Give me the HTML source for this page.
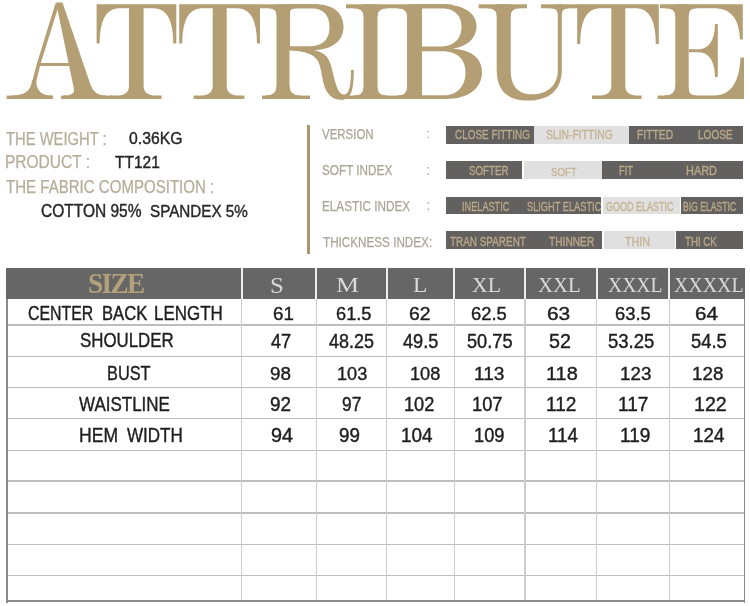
<!DOCTYPE html>
<html><head><meta charset="utf-8"><style>
html,body{margin:0;padding:0;background:#fff}
body{width:750px;height:606px;position:relative;overflow:hidden;font-family:"Liberation Sans",sans-serif}
#w{position:absolute;left:0;top:0;width:750px;height:606px;filter:blur(0.35px)}
.r{position:absolute}
.t{position:absolute;white-space:pre;line-height:1;transform-origin:0 0}
</style></head><body><div id="w">
<svg style="position:absolute;left:0;top:0" width="750" height="110" viewBox="0 0 750 110" fill="#b49e73"><path d="M56,2.6 L62.5,2.6 L94.5,96.5 L75.5,96.5 Z"/><path d="M55.5,3.2 L58.8,5.5 L40.5,64 L36.6,80 L34,96.5 L30,96.5 L32.6,80 L36.8,64 Z"/><path d="M39,63 L71,63 L72,66 L38,66 Z"/><rect x="6.6" y="95.6" width="46.4" height="3.4000000000000057"/><rect x="61" y="95.6" width="51" height="3.4000000000000057"/><path d="M32,80 Q31,95.6 12,95.6 L12,96.6 L52,96.6 L52,95.6 Q37,95.6 36.2,82 Z"/><path d="M75,86 Q76,95.6 64,95.6 L64,96.6 L80,96.6 Z"/><path d="M91,86 Q94.5,95.6 106,95.6 L106,96.6 L88,96.6 Z"/><path d="M96.6,4.3 L176.3,4.3 L176.3,43.5 L173.3,43.5 Q173.3,9.3 154.3,8.3 L143.6,8.3 L143.6,86 Q143.6,95.6 156.6,95.6 L161.5,95.6 L161.5,99.0 L110,99.0 L110,95.6 L116.0,95.6 Q129.0,95.6 129.0,86 L129.0,8.3 L118.6,8.3 Q99.6,9.3 99.6,43.5 L96.6,43.5 Z"/><path d="M179.2,4.3 L260.0,4.3 L260.0,43.5 L257.0,43.5 Q257.0,9.3 238.0,8.3 L226.7,8.3 L226.7,86 Q226.7,95.6 239.7,95.6 L244.4,95.6 L244.4,99.0 L193.6,99.0 L193.6,95.6 L199.7,95.6 Q212.7,95.6 212.7,86 L212.7,8.3 L201.2,8.3 Q182.2,9.3 182.2,43.5 L179.2,43.5 Z"/><rect x="259.5" y="4.3" width="58.5" height="4.000000000000001"/><rect x="276.5" y="4.3" width="13.0" height="94.7"/><rect x="262" y="95.6" width="48" height="3.4000000000000057"/><path d="M277.5,15.3 L276.5,15.3 Q276.5,8.3 268.5,8.3 L268.5,7.300000000000001 L277.5,7.300000000000001 Z"/><path d="M288.5,14.3 L289.5,14.3 Q289.5,8.3 295.5,8.3 L295.5,7.300000000000001 L288.5,7.300000000000001 Z"/><path d="M277.5,86.6 L276.5,86.6 Q276.5,95.6 265.5,95.6 L265.5,96.6 L277.5,96.6 Z"/><path d="M288.5,86.6 L289.5,86.6 Q289.5,95.6 300.5,95.6 L300.5,96.6 L288.5,96.6 Z"/><path fill-rule="evenodd" d="M288,4.3 L315,4.3 C335,4.3 343.5,14 343.5,27 C343.5,41 332,50.2 312,50.2 L288,50.2 Z M290,8.3 L311,8.3 C324,8.3 329.5,16 329.5,27 C329.5,38 324,46.2 310,46.2 L290,46.2 Z"/><path d="M290,48.6 C310,48.4 322,50.5 327,57 C331.5,63 333,75 336,84.5 C338,91 340.5,94.5 343.8,94.5 C348,94.5 351,90 351,70 L353.8,70 C353.8,93 350,99.8 341,99.8 C333,99.8 328,95 325,88 C322,80 321.5,69 318.5,62 C315,54.5 306,51 290,50.4 Z"/><rect x="346" y="4.3" width="106" height="4.000000000000001"/><rect x="363.5" y="4.3" width="14.0" height="94.7"/><rect x="346" y="95.6" width="102" height="3.4000000000000057"/><path d="M364.5,16.3 L363.5,16.3 Q363.5,8.3 353.5,8.3 L353.5,7.300000000000001 L364.5,7.300000000000001 Z"/><path d="M376.5,16.3 L377.5,16.3 Q377.5,8.3 387.5,8.3 L387.5,7.300000000000001 L376.5,7.300000000000001 Z"/><path d="M364.5,87.6 L363.5,87.6 Q363.5,95.6 353.5,95.6 L353.5,96.6 L364.5,96.6 Z"/><path d="M376.5,87.6 L377.5,87.6 Q377.5,95.6 387.5,95.6 L387.5,96.6 L376.5,96.6 Z"/><rect x="407" y="4.3" width="15" height="94.7"/><path d="M408,16.3 L407,16.3 Q407,8.3 397,8.3 L397,7.300000000000001 L408,7.300000000000001 Z"/><path d="M408,87.6 L407,87.6 Q407,95.6 397,95.6 L397,96.6 L408,96.6 Z"/><path fill-rule="evenodd" d="M420.5,4.3 L441,4.3 C465,4.3 476.5,14 476.5,26 C476.5,39 466,48.5 446,49.5 L420.5,49.5 Z M422,8.3 L440,8.3 C455,8.3 461.5,16 461.5,26.5 C461.5,38 455,46.5 440,46.5 L422,46.5 Z"/><path fill-rule="evenodd" d="M420.5,48.5 L448,48.5 C471,48.5 482,58 482,72 C482,88 469,99 445,99 L420.5,99 Z M422,51.2 L442,51.2 C458,51.2 465.5,60 465.5,72 C465.5,86 458,95.6 442,95.6 L422,95.6 Z"/><rect x="478.7" y="4.3" width="48.30000000000001" height="4.000000000000001"/><path d="M497.7,16.3 L496.7,16.3 Q496.7,8.3 487.7,8.3 L487.7,7.300000000000001 L497.7,7.300000000000001 Z"/><path d="M509.7,16.3 L510.7,16.3 Q510.7,8.3 519.7,8.3 L519.7,7.300000000000001 L509.7,7.300000000000001 Z"/><path d="M496.7,4.3 L510.7,4.3 L510.7,70 C510.7,86 518,94.3 532,94.3 C547,94.3 557.8,86 557.8,70 L557.8,4.3 L561.8,4.3 L561.8,70 C561.8,91 548,100.6 528,100.6 C508,100.6 496.7,91 496.7,70 Z"/><rect x="541" y="4.3" width="38" height="4.000000000000001"/><path d="M558.8,14.3 L557.8,14.3 Q557.8,8.3 550.8,8.3 L550.8,7.300000000000001 L558.8,7.300000000000001 Z"/><path d="M560.8,14.3 L561.8,14.3 Q561.8,8.3 568.8,8.3 L568.8,7.300000000000001 L560.8,7.300000000000001 Z"/><path d="M577.2,4.3 L658.8,4.3 L658.8,44 L655.8,44 Q655.8,9.3 636.8,8.3 L625.3,8.3 L625.3,86 Q625.3,95.6 638.3,95.6 L641.5,95.6 L641.5,99.0 L592,99.0 L592,95.6 L598.3,95.6 Q611.3,95.6 611.3,86 L611.3,8.3 L599.2,8.3 Q580.2,9.3 580.2,44 L577.2,44 Z"/><rect x="675.3" y="4.3" width="13.400000000000091" height="94.7"/><path d="M660,4.3 L742.8,4.3 L742.8,39.6 L740,39.6 Q739,9.3 716,8.3 L660,8.3 Z"/><path d="M657.6,95.6 L715,95.6 Q739,94.6 740.5,57.6 L744,57.6 L744,99.0 L657.6,99.0 Z"/><path d="M717.8,24 L717.8,77 L715,77 Q714.5,53 699,52.2 L689,52.2 L689,49.2 L699,49.2 Q714.5,48.4 715,24 Z"/><path d="M676.3,16.3 L675.3,16.3 Q675.3,8.3 665.3,8.3 L665.3,7.300000000000001 L676.3,7.300000000000001 Z"/><path d="M676.3,86.6 L675.3,86.6 Q675.3,95.6 664.3,95.6 L664.3,96.6 L676.3,96.6 Z"/><path d="M687.7,15.3 L688.7,15.3 Q688.7,8.3 696.7,8.3 L696.7,7.300000000000001 L687.7,7.300000000000001 Z"/><path d="M687.7,88.6 L688.7,88.6 Q688.7,95.6 696.7,95.6 L696.7,96.6 L687.7,96.6 Z"/></svg>
<div class="r" style="left:445.6px;top:126px;width:88.0px;height:17.6px;background:#63615f"></div><div class="r" style="left:533.6px;top:126px;width:95.2px;height:17.6px;background:#e1e0e0"></div><div class="r" style="left:628.8px;top:126px;width:114.2px;height:17.6px;background:#63615f"></div><div class="r" style="left:445.6px;top:161px;width:76.0px;height:17.6px;background:#63615f"></div><div class="r" style="left:524.3px;top:161px;width:77.4px;height:17.6px;background:#e1e0e0"></div><div class="r" style="left:601.7px;top:161px;width:141.3px;height:17.6px;background:#63615f"></div><div class="r" style="left:446.2px;top:196.8px;width:154.8px;height:17.5px;background:#63615f"></div><div class="r" style="left:603px;top:196.8px;width:77.2px;height:17.5px;background:#e1e0e0"></div><div class="r" style="left:681.2px;top:196.8px;width:62.3px;height:17.5px;background:#63615f"></div><div class="r" style="left:446.2px;top:231.2px;width:155.5px;height:17.6px;background:#63615f"></div><div class="r" style="left:603.5px;top:231.2px;width:71.5px;height:17.6px;background:#e1e0e0"></div><div class="r" style="left:676.2px;top:231.2px;width:67.3px;height:17.6px;background:#63615f"></div><div class="r" style="left:307px;top:125px;width:3px;height:128.5px;background:#a9966f"></div><div class="r" style="left:6px;top:268px;width:738.8px;height:31px;background:#666666"></div><div class="r" style="left:240.6px;top:268px;width:2px;height:31px;background:#eeeeee"></div><div class="r" style="left:315.2px;top:268px;width:2px;height:31px;background:#eeeeee"></div><div class="r" style="left:385.6px;top:268px;width:2px;height:31px;background:#eeeeee"></div><div class="r" style="left:453.3px;top:268px;width:2px;height:31px;background:#eeeeee"></div><div class="r" style="left:524.0px;top:268px;width:2px;height:31px;background:#eeeeee"></div><div class="r" style="left:595.8px;top:268px;width:2px;height:31px;background:#eeeeee"></div><div class="r" style="left:668.2px;top:268px;width:2px;height:31px;background:#eeeeee"></div><div class="r" style="left:7px;top:324.2px;width:737px;height:1.5px;background:#bdbdbd"></div><div class="r" style="left:7px;top:355.5px;width:737px;height:1.5px;background:#bdbdbd"></div><div class="r" style="left:7px;top:386.7px;width:737px;height:1.5px;background:#bdbdbd"></div><div class="r" style="left:7px;top:417.8px;width:737px;height:1.5px;background:#bdbdbd"></div><div class="r" style="left:7px;top:449.5px;width:737px;height:1.5px;background:#bdbdbd"></div><div class="r" style="left:7px;top:480.4px;width:737px;height:1.5px;background:#bdbdbd"></div><div class="r" style="left:7px;top:512.2px;width:737px;height:1.5px;background:#bdbdbd"></div><div class="r" style="left:7px;top:543.6px;width:737px;height:1.5px;background:#bdbdbd"></div><div class="r" style="left:7px;top:574.7px;width:737px;height:1.5px;background:#bdbdbd"></div><div class="r" style="left:241.0px;top:299px;width:1.3px;height:302px;background:#cccccc"></div><div class="r" style="left:315.6px;top:299px;width:1.3px;height:302px;background:#cccccc"></div><div class="r" style="left:386.0px;top:299px;width:1.3px;height:302px;background:#cccccc"></div><div class="r" style="left:453.7px;top:299px;width:1.3px;height:302px;background:#cccccc"></div><div class="r" style="left:524.4px;top:299px;width:1.3px;height:302px;background:#cccccc"></div><div class="r" style="left:596.2px;top:299px;width:1.3px;height:302px;background:#cccccc"></div><div class="r" style="left:668.6px;top:299px;width:1.3px;height:302px;background:#cccccc"></div><div class="r" style="left:5.5px;top:299px;width:2px;height:303.5px;background:#8a8a8a"></div><div class="r" style="left:743.5px;top:299px;width:1.8px;height:303.5px;background:#8a8a8a"></div><div class="r" style="left:5.5px;top:600.4px;width:739.8px;height:2px;background:#8a8a8a"></div>
<div class="t" style="left:6.25px;top:129.80px;font-family:'Liberation Sans',sans-serif;font-size:18.00px;color:#b6ad99;transform:scaleX(0.8209);-webkit-text-stroke:0.25px #b6ad99;">THE WEIGHT :</div>
<div class="t" style="left:129.48px;top:130.41px;font-family:'Liberation Sans',sans-serif;font-size:17.27px;color:#262626;transform:scaleX(0.9119);-webkit-text-stroke:0.4px #262626;">0.36KG</div>
<div class="t" style="left:5.21px;top:153.87px;font-family:'Liberation Sans',sans-serif;font-size:17.56px;color:#b6ad99;transform:scaleX(0.8843);-webkit-text-stroke:0.25px #b6ad99;">PRODUCT :</div>
<div class="t" style="left:115.34px;top:154.11px;font-family:'Liberation Sans',sans-serif;font-size:17.27px;color:#262626;transform:scaleX(0.8985);-webkit-text-stroke:0.4px #262626;">TT121</div>
<div class="t" style="left:6.25px;top:177.80px;font-family:'Liberation Sans',sans-serif;font-size:18.00px;color:#b6ad99;transform:scaleX(0.8362);-webkit-text-stroke:0.25px #b6ad99;">THE FABRIC COMPOSITION :</div>
<div class="t" style="left:40.82px;top:202.62px;font-family:'Liberation Sans',sans-serif;font-size:17.85px;color:#262626;transform:scaleX(0.8690);-webkit-text-stroke:0.4px #262626;">COTTON 95%</div>
<div class="t" style="left:149.64px;top:202.93px;font-family:'Liberation Sans',sans-serif;font-size:17.12px;color:#262626;transform:scaleX(0.8899);-webkit-text-stroke:0.4px #262626;">SPANDEX 5%</div>
<div class="t" style="left:322.30px;top:126.50px;font-family:'Liberation Sans',sans-serif;font-size:14.63px;color:#aba597;transform:scaleX(0.7844);-webkit-text-stroke:0.25px #aba597;">VERSION</div>
<div class="t" style="left:426.52px;top:127.89px;font-family:'Liberation Sans',sans-serif;font-size:12.97px;color:#aba597;transform:scaleX(1.0000);">:</div>
<div class="t" style="left:321.71px;top:163.03px;font-family:'Liberation Sans',sans-serif;font-size:14.49px;color:#aba597;transform:scaleX(0.8107);-webkit-text-stroke:0.25px #aba597;">SOFT INDEX</div>
<div class="t" style="left:426.37px;top:163.23px;font-family:'Liberation Sans',sans-serif;font-size:14.13px;color:#aba597;transform:scaleX(1.0000);">:</div>
<div class="t" style="left:321.82px;top:198.97px;font-family:'Liberation Sans',sans-serif;font-size:14.20px;color:#aba597;transform:scaleX(0.8272);-webkit-text-stroke:0.25px #aba597;">ELASTIC INDEX</div>
<div class="t" style="left:426.62px;top:199.15px;font-family:'Liberation Sans',sans-serif;font-size:13.74px;color:#aba597;transform:scaleX(1.0000);">:</div>
<div class="t" style="left:322.61px;top:234.60px;font-family:'Liberation Sans',sans-serif;font-size:14.63px;color:#aba597;transform:scaleX(0.7993);-webkit-text-stroke:0.25px #aba597;">THICKNESS INDEX:</div>
<div class="t" style="left:455.10px;top:128.91px;font-family:'Liberation Sans',sans-serif;font-size:12.59px;color:#bba98a;transform:scaleX(0.7889);-webkit-text-stroke:0.35px #bba98a;">CLOSE FITTING</div>
<div class="t" style="left:545.78px;top:128.91px;font-family:'Liberation Sans',sans-serif;font-size:12.59px;color:#c4b393;transform:scaleX(0.8239);-webkit-text-stroke:0.35px #c4b393;">SLIN-FITTING</div>
<div class="t" style="left:636.54px;top:128.91px;font-family:'Liberation Sans',sans-serif;font-size:12.59px;color:#bba98a;transform:scaleX(0.8237);-webkit-text-stroke:0.35px #bba98a;">FITTED</div>
<div class="t" style="left:698.16px;top:128.91px;font-family:'Liberation Sans',sans-serif;font-size:12.59px;color:#bba98a;transform:scaleX(0.8002);-webkit-text-stroke:0.35px #bba98a;">LOOSE</div>
<div class="t" style="left:468.51px;top:165.43px;font-family:'Liberation Sans',sans-serif;font-size:12.44px;color:#bba98a;transform:scaleX(0.7856);-webkit-text-stroke:0.35px #bba98a;">SOFTER</div>
<div class="t" style="left:550.52px;top:166.04px;font-family:'Liberation Sans',sans-serif;font-size:11.71px;color:#c4b393;transform:scaleX(0.8213);-webkit-text-stroke:0.35px #c4b393;">SOFT</div>
<div class="t" style="left:619.23px;top:165.43px;font-family:'Liberation Sans',sans-serif;font-size:12.44px;color:#bba98a;transform:scaleX(0.7465);-webkit-text-stroke:0.35px #bba98a;">FIT</div>
<div class="t" style="left:685.79px;top:165.43px;font-family:'Liberation Sans',sans-serif;font-size:12.44px;color:#bba98a;transform:scaleX(0.8784);-webkit-text-stroke:0.35px #bba98a;">HARD</div>
<div class="t" style="left:462.08px;top:200.87px;font-family:'Liberation Sans',sans-serif;font-size:12.88px;color:#bba98a;transform:scaleX(0.7120);-webkit-text-stroke:0.35px #bba98a;">INELASTIC</div>
<div class="t" style="left:526.54px;top:200.87px;font-family:'Liberation Sans',sans-serif;font-size:12.88px;color:#bba98a;transform:scaleX(0.7179);-webkit-text-stroke:0.35px #bba98a;">SLIGHT ELASTIC</div>
<div class="t" style="left:606.45px;top:200.87px;font-family:'Liberation Sans',sans-serif;font-size:12.88px;color:#c4b393;transform:scaleX(0.6989);-webkit-text-stroke:0.35px #c4b393;">GOOD ELASTIC</div>
<div class="t" style="left:683.38px;top:200.87px;font-family:'Liberation Sans',sans-serif;font-size:12.88px;color:#bba98a;transform:scaleX(0.6693);-webkit-text-stroke:0.35px #bba98a;">BIG ELASTIC</div>
<div class="t" style="left:449.83px;top:234.78px;font-family:'Liberation Sans',sans-serif;font-size:13.46px;color:#bba98a;transform:scaleX(0.7372);-webkit-text-stroke:0.35px #bba98a;">TRAN SPARENT</div>
<div class="t" style="left:548.83px;top:234.78px;font-family:'Liberation Sans',sans-serif;font-size:13.46px;color:#bba98a;transform:scaleX(0.7569);-webkit-text-stroke:0.35px #bba98a;">THINNER</div>
<div class="t" style="left:625.42px;top:234.78px;font-family:'Liberation Sans',sans-serif;font-size:13.46px;color:#c4b393;transform:scaleX(0.7982);-webkit-text-stroke:0.35px #c4b393;">THIN</div>
<div class="t" style="left:685.44px;top:234.78px;font-family:'Liberation Sans',sans-serif;font-size:13.46px;color:#bba98a;transform:scaleX(0.7222);-webkit-text-stroke:0.35px #bba98a;">THI CK</div>
<div class="t" style="left:88.24px;top:268.78px;font-family:'Liberation Serif',serif;font-size:29.54px;color:#b3a17b;transform:scaleX(0.9208);font-weight:bold;letter-spacing:-0.06em;">SIZE</div>
<div class="t" style="left:270.34px;top:274.74px;font-family:'Liberation Serif',serif;font-size:22.15px;color:#dadada;transform:scaleX(1.1250);">S</div>
<div class="t" style="left:335.94px;top:274.99px;font-family:'Liberation Serif',serif;font-size:21.85px;color:#dadada;transform:scaleX(1.1865);">M</div>
<div class="t" style="left:412.83px;top:274.99px;font-family:'Liberation Serif',serif;font-size:21.85px;color:#dadada;transform:scaleX(1.0632);">L</div>
<div class="t" style="left:471.74px;top:275.25px;font-family:'Liberation Serif',serif;font-size:21.54px;color:#dadada;transform:scaleX(1.0066);">XL</div>
<div class="t" style="left:538.05px;top:275.25px;font-family:'Liberation Serif',serif;font-size:21.54px;color:#dadada;transform:scaleX(0.9621);">XXL</div>
<div class="t" style="left:607.67px;top:275.05px;font-family:'Liberation Serif',serif;font-size:21.54px;color:#dadada;transform:scaleX(0.9114);">XXXL</div>
<div class="t" style="left:673.67px;top:275.05px;font-family:'Liberation Serif',serif;font-size:21.54px;color:#dadada;transform:scaleX(0.9240);">XXXXL</div>
<div class="t" style="left:28.31px;top:303.29px;font-family:'Liberation Sans',sans-serif;font-size:20.05px;color:#1e1e1e;transform:scaleX(0.7918);-webkit-text-stroke:0.4px #1e1e1e;">CENTER</div>
<div class="t" style="left:101.51px;top:303.29px;font-family:'Liberation Sans',sans-serif;font-size:20.05px;color:#1e1e1e;transform:scaleX(0.8292);-webkit-text-stroke:0.4px #1e1e1e;">BACK</div>
<div class="t" style="left:154.48px;top:303.29px;font-family:'Liberation Sans',sans-serif;font-size:20.05px;color:#1e1e1e;transform:scaleX(0.8477);-webkit-text-stroke:0.4px #1e1e1e;">LENGTH</div>
<div class="t" style="left:80.16px;top:329.88px;font-family:'Liberation Sans',sans-serif;font-size:20.78px;color:#1e1e1e;transform:scaleX(0.8123);-webkit-text-stroke:0.4px #1e1e1e;">SHOULDER</div>
<div class="t" style="left:107.24px;top:363.29px;font-family:'Liberation Sans',sans-serif;font-size:20.05px;color:#1e1e1e;transform:scaleX(0.8142);-webkit-text-stroke:0.4px #1e1e1e;">BUST</div>
<div class="t" style="left:78.70px;top:395.30px;font-family:'Liberation Sans',sans-serif;font-size:19.32px;color:#1e1e1e;transform:scaleX(0.8792);-webkit-text-stroke:0.4px #1e1e1e;">WAISTLINE</div>
<div class="t" style="left:78.94px;top:426.10px;font-family:'Liberation Sans',sans-serif;font-size:19.32px;color:#1e1e1e;transform:scaleX(0.9091);-webkit-text-stroke:0.4px #1e1e1e;">HEM</div>
<div class="t" style="left:127.10px;top:426.10px;font-family:'Liberation Sans',sans-serif;font-size:19.32px;color:#1e1e1e;transform:scaleX(0.8817);-webkit-text-stroke:0.4px #1e1e1e;">WIDTH</div>
<div class="t" style="left:272.76px;top:305.08px;font-family:'Liberation Sans',sans-serif;font-size:18.15px;color:#1e1e1e;transform:scaleX(1.0353);-webkit-text-stroke:0.4px #1e1e1e;">61</div>
<div class="t" style="left:335.89px;top:305.08px;font-family:'Liberation Sans',sans-serif;font-size:18.15px;color:#1e1e1e;transform:scaleX(1.0039);-webkit-text-stroke:0.4px #1e1e1e;">61.5</div>
<div class="t" style="left:408.53px;top:305.08px;font-family:'Liberation Sans',sans-serif;font-size:18.15px;color:#1e1e1e;transform:scaleX(1.0678);-webkit-text-stroke:0.4px #1e1e1e;">62</div>
<div class="t" style="left:471.08px;top:305.08px;font-family:'Liberation Sans',sans-serif;font-size:18.15px;color:#1e1e1e;transform:scaleX(1.0128);-webkit-text-stroke:0.4px #1e1e1e;">62.5</div>
<div class="t" style="left:546.96px;top:305.08px;font-family:'Liberation Sans',sans-serif;font-size:18.15px;color:#1e1e1e;transform:scaleX(1.1491);-webkit-text-stroke:0.4px #1e1e1e;">63</div>
<div class="t" style="left:615.08px;top:305.08px;font-family:'Liberation Sans',sans-serif;font-size:18.15px;color:#1e1e1e;transform:scaleX(1.0128);-webkit-text-stroke:0.4px #1e1e1e;">63.5</div>
<div class="t" style="left:694.97px;top:305.08px;font-family:'Liberation Sans',sans-serif;font-size:18.15px;color:#1e1e1e;transform:scaleX(1.1306);-webkit-text-stroke:0.4px #1e1e1e;">64</div>
<div class="t" style="left:270.50px;top:331.70px;font-family:'Liberation Sans',sans-serif;font-size:19.32px;color:#1e1e1e;transform:scaleX(0.9417);-webkit-text-stroke:0.4px #1e1e1e;">47</div>
<div class="t" style="left:329.20px;top:331.70px;font-family:'Liberation Sans',sans-serif;font-size:19.32px;color:#1e1e1e;transform:scaleX(0.9297);-webkit-text-stroke:0.4px #1e1e1e;">48.25</div>
<div class="t" style="left:402.50px;top:331.70px;font-family:'Liberation Sans',sans-serif;font-size:19.32px;color:#1e1e1e;transform:scaleX(0.9401);-webkit-text-stroke:0.4px #1e1e1e;">49.5</div>
<div class="t" style="left:467.09px;top:331.70px;font-family:'Liberation Sans',sans-serif;font-size:19.32px;color:#1e1e1e;transform:scaleX(0.9425);-webkit-text-stroke:0.4px #1e1e1e;">50.75</div>
<div class="t" style="left:549.02px;top:331.70px;font-family:'Liberation Sans',sans-serif;font-size:19.32px;color:#1e1e1e;transform:scaleX(1.0184);-webkit-text-stroke:0.4px #1e1e1e;">52</div>
<div class="t" style="left:608.27px;top:331.70px;font-family:'Liberation Sans',sans-serif;font-size:19.32px;color:#1e1e1e;transform:scaleX(0.9597);-webkit-text-stroke:0.4px #1e1e1e;">53.25</div>
<div class="t" style="left:691.08px;top:331.70px;font-family:'Liberation Sans',sans-serif;font-size:19.32px;color:#1e1e1e;transform:scaleX(0.9514);-webkit-text-stroke:0.4px #1e1e1e;">54.5</div>
<div class="t" style="left:269.86px;top:364.02px;font-family:'Liberation Sans',sans-serif;font-size:19.17px;color:#1e1e1e;transform:scaleX(0.9800);-webkit-text-stroke:0.4px #1e1e1e;">98</div>
<div class="t" style="left:336.79px;top:364.02px;font-family:'Liberation Sans',sans-serif;font-size:19.17px;color:#1e1e1e;transform:scaleX(0.9457);-webkit-text-stroke:0.4px #1e1e1e;">103</div>
<div class="t" style="left:410.08px;top:364.02px;font-family:'Liberation Sans',sans-serif;font-size:19.17px;color:#1e1e1e;transform:scaleX(0.9491);-webkit-text-stroke:0.4px #1e1e1e;">108</div>
<div class="t" style="left:474.41px;top:364.02px;font-family:'Liberation Sans',sans-serif;font-size:19.17px;color:#1e1e1e;transform:scaleX(0.9958);-webkit-text-stroke:0.4px #1e1e1e;">113</div>
<div class="t" style="left:546.34px;top:364.02px;font-family:'Liberation Sans',sans-serif;font-size:19.17px;color:#1e1e1e;transform:scaleX(1.0385);-webkit-text-stroke:0.4px #1e1e1e;">118</div>
<div class="t" style="left:619.63px;top:364.02px;font-family:'Liberation Sans',sans-serif;font-size:19.17px;color:#1e1e1e;transform:scaleX(0.9798);-webkit-text-stroke:0.4px #1e1e1e;">123</div>
<div class="t" style="left:692.43px;top:364.02px;font-family:'Liberation Sans',sans-serif;font-size:19.17px;color:#1e1e1e;transform:scaleX(0.9798);-webkit-text-stroke:0.4px #1e1e1e;">128</div>
<div class="t" style="left:269.86px;top:395.40px;font-family:'Liberation Sans',sans-serif;font-size:19.32px;color:#1e1e1e;transform:scaleX(0.9776);-webkit-text-stroke:0.4px #1e1e1e;">92</div>
<div class="t" style="left:341.83px;top:395.40px;font-family:'Liberation Sans',sans-serif;font-size:19.32px;color:#1e1e1e;transform:scaleX(0.8962);-webkit-text-stroke:0.4px #1e1e1e;">97</div>
<div class="t" style="left:404.18px;top:395.40px;font-family:'Liberation Sans',sans-serif;font-size:19.32px;color:#1e1e1e;transform:scaleX(0.9419);-webkit-text-stroke:0.4px #1e1e1e;">102</div>
<div class="t" style="left:472.48px;top:395.40px;font-family:'Liberation Sans',sans-serif;font-size:19.32px;color:#1e1e1e;transform:scaleX(0.9453);-webkit-text-stroke:0.4px #1e1e1e;">107</div>
<div class="t" style="left:546.41px;top:395.40px;font-family:'Liberation Sans',sans-serif;font-size:19.32px;color:#1e1e1e;transform:scaleX(0.9883);-webkit-text-stroke:0.4px #1e1e1e;">112</div>
<div class="t" style="left:618.41px;top:395.40px;font-family:'Liberation Sans',sans-serif;font-size:19.32px;color:#1e1e1e;transform:scaleX(0.9883);-webkit-text-stroke:0.4px #1e1e1e;">117</div>
<div class="t" style="left:694.37px;top:395.40px;font-family:'Liberation Sans',sans-serif;font-size:19.32px;color:#1e1e1e;transform:scaleX(1.0128);-webkit-text-stroke:0.4px #1e1e1e;">122</div>
<div class="t" style="left:271.31px;top:425.60px;font-family:'Liberation Sans',sans-serif;font-size:19.32px;color:#1e1e1e;transform:scaleX(1.0270);-webkit-text-stroke:0.4px #1e1e1e;">94</div>
<div class="t" style="left:338.76px;top:425.60px;font-family:'Liberation Sans',sans-serif;font-size:19.32px;color:#1e1e1e;transform:scaleX(0.9726);-webkit-text-stroke:0.4px #1e1e1e;">99</div>
<div class="t" style="left:401.22px;top:425.60px;font-family:'Liberation Sans',sans-serif;font-size:19.32px;color:#1e1e1e;transform:scaleX(0.9786);-webkit-text-stroke:0.4px #1e1e1e;">104</div>
<div class="t" style="left:474.48px;top:425.60px;font-family:'Liberation Sans',sans-serif;font-size:19.32px;color:#1e1e1e;transform:scaleX(0.9453);-webkit-text-stroke:0.4px #1e1e1e;">109</div>
<div class="t" style="left:547.63px;top:425.60px;font-family:'Liberation Sans',sans-serif;font-size:19.32px;color:#1e1e1e;transform:scaleX(0.9772);-webkit-text-stroke:0.4px #1e1e1e;">114</div>
<div class="t" style="left:620.41px;top:425.60px;font-family:'Liberation Sans',sans-serif;font-size:19.32px;color:#1e1e1e;transform:scaleX(0.9883);-webkit-text-stroke:0.4px #1e1e1e;">119</div>
<div class="t" style="left:693.23px;top:425.60px;font-family:'Liberation Sans',sans-serif;font-size:19.32px;color:#1e1e1e;transform:scaleX(0.9752);-webkit-text-stroke:0.4px #1e1e1e;">124</div>
</div></body></html>
